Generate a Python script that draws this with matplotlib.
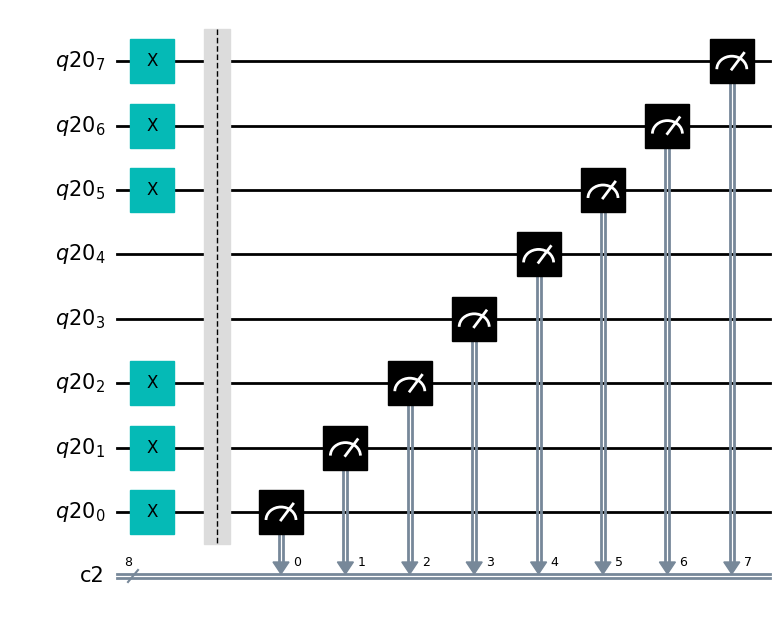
import matplotlib
matplotlib.use("Agg")
import matplotlib.pyplot as plt
from matplotlib.patches import Rectangle, Arc, Polygon

qubits = [7, 6, 5, 4, 3, 2, 1, 0]
x_gates = [7, 6, 5, 2, 1, 0]
measure_order = [0, 1, 2, 3, 4, 5, 6, 7]
clbits = [0, 1, 2, 3, 4, 5, 6, 7]
creg_name = "c2"
creg_size = 8

fig = plt.figure(figsize=(7.84, 6.25), dpi=100)
ax = fig.add_axes([0, 0, 1, 1])
ax.set_xlim(0, 784); ax.set_ylim(625, 0); ax.axis("off")

def qy(q):
    return 512 - q * 64.4

CY = 576
GRAY = "#778899"
# wires
for q in qubits:
    ax.plot([117, 770], [qy(q)] * 2, color="black", lw=2, zorder=1)
    ax.text(105, qy(q), f"$q20_{q}$", ha="right", va="center", fontsize=15)
ax.plot([117, 770], [CY - 2, CY - 2], color=GRAY, lw=2, zorder=1)
ax.plot([117, 770], [CY + 2, CY + 2], color=GRAY, lw=2, zorder=1)
ax.text(105, CY, creg_name, ha="right", va="center", fontsize=15)
ax.plot([128, 138], [CY + 6, CY - 6], color=GRAY, lw=1.5)
ax.text(128, 562, str(creg_size), ha="center", va="center", fontsize=9)

# X gates
for q in x_gates:
    ax.add_patch(Rectangle((130, qy(q) - 22), 44, 44, color="#05bab6", zorder=3))
    ax.text(152, qy(q), "X", ha="center", va="center", fontsize=12, zorder=4)

# barrier
ax.add_patch(Rectangle((204, 29), 26, 515, color="#dcdcdc", zorder=2))
ax.plot([217, 217], [29, 544], color="black", lw=1, ls=(0, (4, 2)), zorder=3)

# measurements
for i, (q, c) in enumerate(zip(measure_order, clbits)):
    x = 281 + i * 64.4
    y = qy(q)
    ax.plot([x - 2, x - 2], [y + 22, 566], color=GRAY, lw=2, zorder=2)
    ax.plot([x + 2, x + 2], [y + 22, 566], color=GRAY, lw=2, zorder=2)
    ax.add_patch(Polygon([[x - 8, 562], [x + 8, 562], [x, 574]], color=GRAY, zorder=3))
    ax.text(x + 16, 563, str(c), ha="center", va="center", fontsize=9)
    ax.add_patch(Rectangle((x - 22, y - 22), 44, 44, color="black", zorder=3))
    ax.add_patch(Arc((x, y + 8), 30, 26, theta1=180, theta2=360, color="white", lw=2, zorder=4))
    ax.plot([x, x + 12], [y + 8, y - 8], color="white", lw=2, zorder=4)

fig.savefig("out.png", dpi=100)
